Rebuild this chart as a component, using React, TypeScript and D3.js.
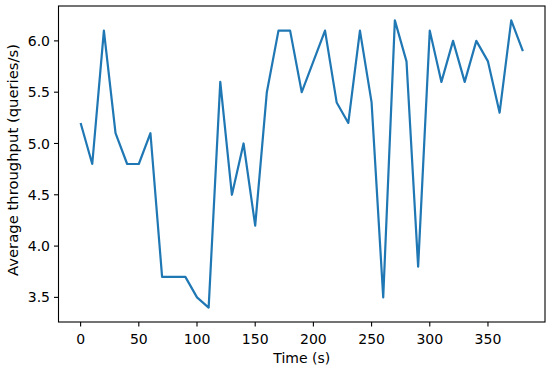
import React from "react";
import * as d3 from "d3";

const times = [0, 10, 20, 30, 40, 50, 60, 70, 80, 90, 100, 110, 120, 130, 140, 150, 160, 170, 180, 190, 200, 210, 220, 230, 240, 250, 260, 270, 280, 290, 300, 310, 320, 330, 340, 350, 360, 370, 380];
const throughput = [5.2, 4.8, 6.1, 5.1, 4.8, 4.8, 5.1, 3.7, 3.7, 3.7, 3.5, 3.4, 5.6, 4.5, 5.0, 4.2, 5.5, 6.1, 6.1, 5.5, 5.8, 6.1, 5.4, 5.2, 6.1, 5.4, 3.5, 6.2, 5.8, 3.8, 6.1, 5.6, 6.0, 5.6, 6.0, 5.8, 5.3, 6.2, 5.9];
const xTicks = [0, 50, 100, 150, 200, 250, 300, 350];
const yTicks = [3.5, 4.0, 4.5, 5.0, 5.5, 6.0];

const width = 550;
const height = 369;
const left = 58.5;
const right = 545;
const top = 6;
const bottom = 322;
const font = "DejaVu Sans";
const fs = 14;

export default function App() {
  const x = d3.scaleLinear().domain([-19, 399]).range([left, right]);
  const y = d3.scaleLinear().domain([3.26, 6.34]).range([bottom, top]);
  const pts: [number, number][] = times.map((t, i) => [t, throughput[i]]);
  const path = d3
    .line<[number, number]>()
    .x((d) => x(d[0]))
    .y((d) => y(d[1]))(pts);

  return (
    <svg
      width={width}
      height={height}
      style={{ position: "absolute", left: 0, top: 0, background: "#fff" }}
      fontFamily={font}
    >
      <path d={path || ""} fill="none" stroke="#1f77b4" strokeWidth={2.2} strokeLinejoin="round" />
      <rect x={left} y={top} width={right - left} height={bottom - top} fill="none" stroke="#000" strokeWidth={1.1} />
      {xTicks.map((t) => (
        <g key={t} transform={`translate(${x(t)},${bottom})`}>
          <line y2={4.5} stroke="#000" strokeWidth={1.1} />
          <text y={22} textAnchor="middle" fontSize={fs}>
            {t}
          </text>
        </g>
      ))}
      {yTicks.map((t) => (
        <g key={t} transform={`translate(${left},${y(t)})`}>
          <line x2={-4.5} stroke="#000" strokeWidth={1.1} />
          <text x={-8.5} dy="0.36em" textAnchor="end" fontSize={fs}>
            {t.toFixed(1)}
          </text>
        </g>
      ))}
      <text x={(left + right) / 2} y={363} textAnchor="middle" fontSize={fs}>
        Time (s)
      </text>
      <text
        transform={`translate(18,160) rotate(-90)`}
        textAnchor="middle"
        fontSize={14.8}
      >
        Average throughput (queries/s)
      </text>
    </svg>
  );
}
